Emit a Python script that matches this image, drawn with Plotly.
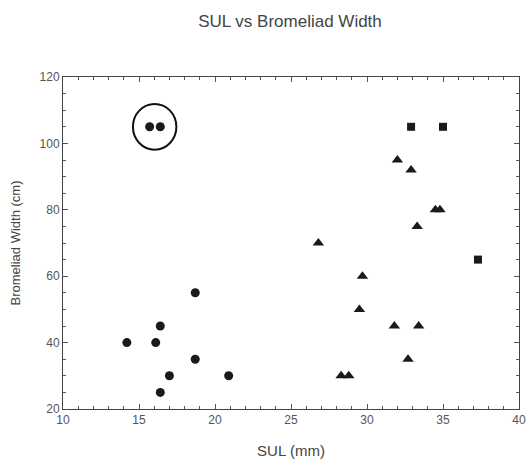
import plotly.graph_objects as go

# Circles
circ_x = [14.2, 16.1, 16.4, 18.7, 18.7, 17.0, 20.9, 16.4, 15.7, 16.4]
circ_y = [40, 40, 45, 55, 35, 30, 30, 25, 105, 105]
# Triangles
tri_x = [32.0, 32.9, 34.5, 34.8, 33.3, 26.8, 29.7, 29.5, 31.8, 33.4, 32.7, 28.3, 28.8]
tri_y = [95, 92, 80, 80, 75, 70, 60, 50, 45, 45, 35, 30, 30]
# Squares
sq_x = [32.9, 35.0, 37.3]
sq_y = [105, 105, 65]

# highlight ellipse around the two circled points
ell_x = [14.6, 17.46]
ell_y = [98.1, 111.9]

mcol = "#1a1a1a"
fig = go.Figure()
fig.add_trace(go.Scatter(x=circ_x, y=circ_y, mode="markers",
                         marker=dict(symbol="circle", size=9, color=mcol)))
fig.add_trace(go.Scatter(x=tri_x, y=tri_y, mode="markers",
                         marker=dict(symbol="triangle-up", size=10, color=mcol)))
fig.add_shape(type="circle", xref="x", yref="y",
              x0=ell_x[0], x1=ell_x[1], y0=ell_y[0], y1=ell_y[1],
              line=dict(color="#111111", width=2))
fig.add_trace(go.Scatter(x=sq_x, y=sq_y, mode="markers",
                         marker=dict(symbol="square", size=8, color=mcol)))

axis_common = dict(
    showline=True, linecolor="#444444", linewidth=1, mirror="ticks",
    ticks="inside", ticklen=5, tickcolor="#555555", tickwidth=1,
    showgrid=False, zeroline=False, automargin=False,
    tickfont=dict(family="Liberation Sans, Arial", size=12, color="#555555"),
)

fig.update_layout(
    width=528, height=459,
    margin=dict(l=63, r=9, t=77, b=50),
    paper_bgcolor="white", plot_bgcolor="white",
    showlegend=False,
    font=dict(family="Liberation Sans, Arial", color="#444444"),
    title=dict(text="SUL vs Bromeliad Width", x=290/528, xanchor="center",
               y=1 - 21/459, yanchor="middle", yref="container",
               font=dict(size=17, color="#444444")),
    xaxis=dict(range=[10, 40], dtick=5, tick0=10,
               minor=dict(dtick=1, ticks="inside", ticklen=3, tickcolor="#555555"),
               title=dict(text="SUL (mm)", font=dict(size=15, color="#444444"), standoff=20),
               **axis_common),
    yaxis=dict(range=[20, 120], dtick=20, tick0=20,
               minor=dict(dtick=5, ticks="inside", ticklen=3, tickcolor="#555555"),
               title=dict(text="Bromeliad Width (cm)", font=dict(size=13, color="#444444"), standoff=16),
               **axis_common),
)

fig.write_html("out.html")
